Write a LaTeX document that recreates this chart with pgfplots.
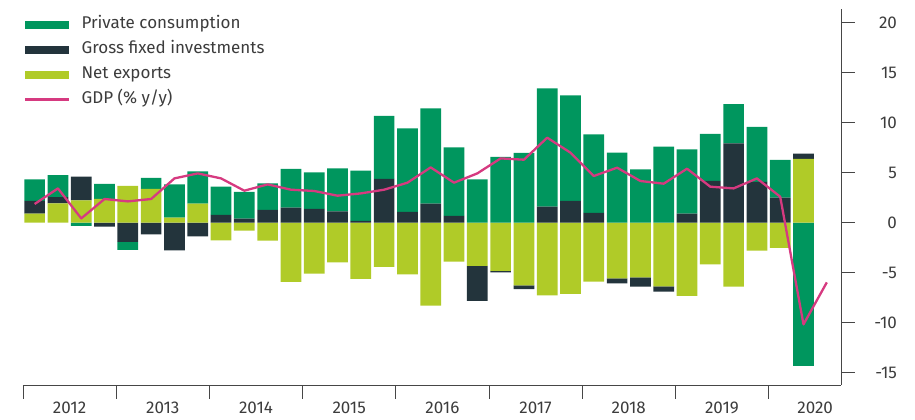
\documentclass[border=0pt]{standalone}
\usepackage{pgfplots}
\pgfplotsset{compat=1.18}
\usepackage{pgfplotstable}
\usepackage{fontspec}
\setmainfont{Fira Sans}
\definecolor{pcgreen}{RGB}{0,150,94}
\definecolor{pcdark}{RGB}{35,52,60}
\definecolor{pclime}{RGB}{176,203,40}
\definecolor{pcpink}{RGB}{214,58,128}
\definecolor{txtgray}{RGB}{60,60,60}
\definecolor{axgray}{RGB}{70,70,70}

% quarter index, net exports, gross fixed investments, private consumption (pp contributions)
\pgfplotstableread{
x lime dark green
0 0.90 1.27 2.17
1 1.93 0.63 2.20
2 2.23 2.37 -0.33
3 2.37 -0.40 1.50
4 3.67 -1.93 -0.80
5 3.37 -1.17 1.10
6 0.50 -2.77 3.33
7 1.90 -1.37 3.23
8 -1.77 0.77 2.83
9 -0.80 0.40 2.67
10 -1.80 1.27 2.67
11 -5.93 1.50 3.87
12 -5.10 1.37 3.67
13 -3.97 1.13 4.30
14 -5.63 0.17 5.03
15 -4.43 4.37 6.30
16 -5.17 1.07 8.37
17 -8.30 1.90 9.53
18 -3.90 0.67 6.87
19 -4.33 -3.50 4.33
20 -4.83 -0.13 6.57
21 -6.27 -0.37 6.97
22 -7.27 1.60 11.83
23 -7.13 2.17 10.57
24 -5.90 0.97 7.87
25 -5.57 -0.50 7.00
26 -5.47 -0.93 5.33
27 -6.37 -0.53 7.60
28 -7.33 0.90 6.43
29 -4.17 4.17 4.70
30 -6.40 7.93 3.93
31 -2.80 4.07 5.50
32 -2.53 2.50 3.77
33 6.37 0.53 -14.33
}\contrib

\pgfplotstableread{
x gdp
0 1.87
1 3.43
2 0.43
3 2.37
4 2.13
5 2.37
6 4.43
7 4.93
8 4.43
9 3.20
10 3.83
11 3.30
12 3.17
13 2.70
14 2.93
15 3.30
16 4.00
17 5.53
18 4.00
19 4.93
20 6.43
21 6.30
22 8.50
23 7.00
24 4.67
25 5.50
26 4.17
27 3.90
28 5.40
29 3.60
30 3.43
31 4.43
32 2.60
33 -10.17
34 -5.97
}\gdp

\pgfplotsset{
  base/.style={
    scale only axis, width=818pt, height=375.7pt,
    xmin=-0.5, xmax=34.61, ymin=-16.23, ymax=21.34,
    at={(0pt,0pt)}, anchor=south west,
  },
  hidden/.style={base, axis lines=none, xtick=\empty, ytick=\empty,
    ybar stacked, bar width=20.7pt},
}

\begin{document}
\begin{tikzpicture}
\useasboundingbox (-23pt,-35pt) rectangle (892pt,385pt);
% negative contributions
\begin{axis}[hidden]
\addplot[fill=pclime, draw=none] table[x=x, y expr={min(\thisrow{lime},0)}] {\contrib};
\addplot[fill=pcdark, draw=none] table[x=x, y expr={min(\thisrow{dark},0)}] {\contrib};
\addplot[fill=pcgreen, draw=none] table[x=x, y expr={min(\thisrow{green},0)}] {\contrib};
\end{axis}
% positive contributions
\begin{axis}[hidden]
\addplot[fill=pclime, draw=none] table[x=x, y expr={max(\thisrow{lime},0)}] {\contrib};
\addplot[fill=pcdark, draw=none] table[x=x, y expr={max(\thisrow{dark},0)}] {\contrib};
\addplot[fill=pcgreen, draw=none] table[x=x, y expr={max(\thisrow{green},0)}] {\contrib};
\end{axis}
% GDP line, axes, legend
\begin{axis}[base,
  axis x line*=bottom, axis y line*=right,
  axis line style={draw=axgray, line width=0.8pt},
  tick align=outside,
  major tick length=13.5pt,
  tick style={draw=axgray, line width=0.8pt},
  ytick={-15,-10,...,20},
  yticklabel style={anchor=east, xshift=46pt, font=\fontsize{17}{20}\selectfont, text=txtgray},
  /pgf/number format/assume math mode=true,
  xtick={-0.5,3.5,...,31.5},
  xticklabels={},
  extra x ticks={1.5,5.5,...,33.5},
  extra x tick labels={2012,2013,2014,2015,2016,2017,2018,2019,2020},
  extra x tick style={tick style={draw=none}},
  xticklabel style={font=\fontsize{17}{20}\selectfont, text=txtgray},
  legend style={draw=none, fill=none, at={(axis description cs:0,1)}, anchor=north west,
    xshift=2pt, yshift=-7pt, inner sep=0pt, row sep=9pt,
    font=\fontsize{17}{20}\selectfont, text=txtgray,
    nodes={inner sep=0pt, text=txtgray, text height=12pt, text depth=4pt}, column sep=13pt},
  legend cell align=left,
]
\addlegendimage{legend image code/.code={\fill[pcgreen] (0pt,-3.3pt) rectangle (43pt,3.3pt);}}
\addlegendentry{Private consumption}
\addlegendimage{legend image code/.code={\fill[pcdark] (0pt,-3.3pt) rectangle (43pt,3.3pt);}}
\addlegendentry{Gross fixed investments}
\addlegendimage{legend image code/.code={\fill[pclime] (0pt,-3.3pt) rectangle (43pt,3.3pt);}}
\addlegendentry{Net exports}
\addlegendimage{legend image code/.code={\fill[pcpink] (0pt,-1.1pt) rectangle (43pt,1.1pt);}}
\addlegendentry{GDP (\% y/y)}
\addplot[pcpink, line width=2.3pt, mark=none, line join=round, forget plot] table[x=x, y=gdp] {\gdp};
\end{axis}
\end{tikzpicture}
\end{document}
